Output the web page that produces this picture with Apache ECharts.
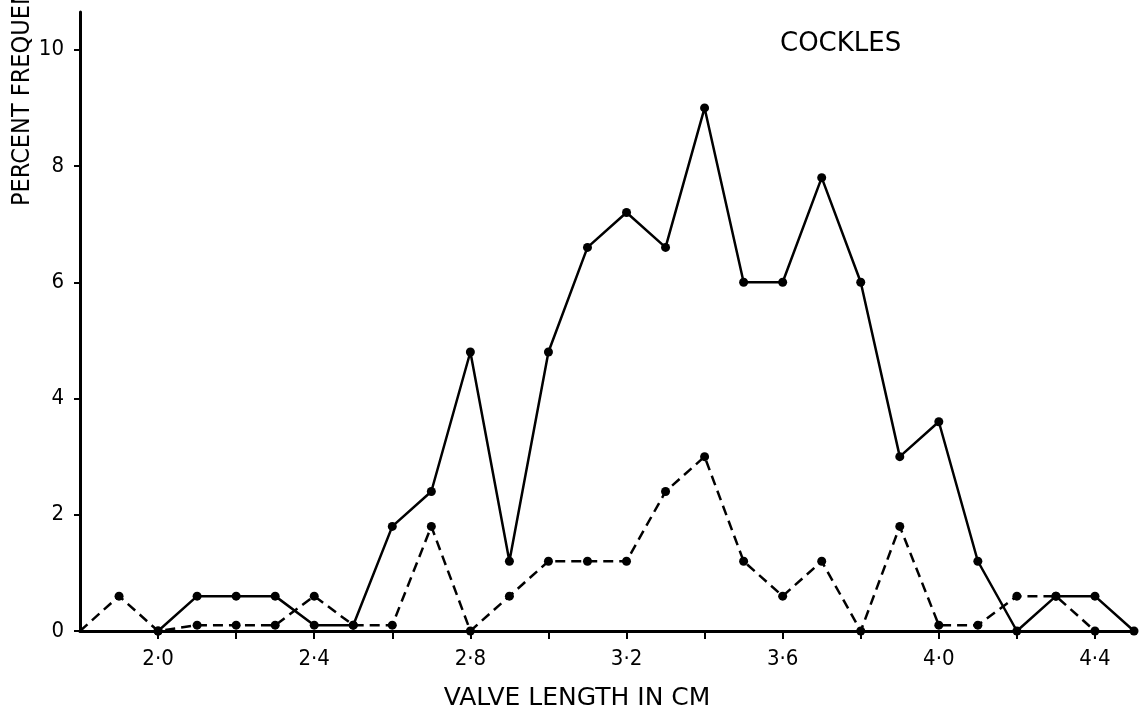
<!DOCTYPE html>
<html>
<head>
<meta charset="utf-8">
<script src="https://cdn.jsdelivr.net/npm/echarts@6/dist/echarts.min.js"></script>
<style>
html,body{margin:0;padding:0;background:#fff;}
#chart{width:1147px;height:714px;}
</style>
</head>
<body>
<div id="chart"></div>
<script>
// Valve lengths (cm) for each series
var solidLengths = [2.0, 2.1, 2.2, 2.3, 2.4, 2.5, 2.6, 2.7, 2.8, 2.9, 3.0, 3.1, 3.2, 3.3, 3.4, 3.5, 3.6, 3.7, 3.8, 3.9, 4.0, 4.1, 4.2, 4.3, 4.4, 4.5];
var solidFreq    = [0, 0.6, 0.6, 0.6, 0.1, 0.1, 1.8, 2.4, 4.8, 1.2, 4.8, 6.6, 7.2, 6.6, 9.0, 6.0, 6.0, 7.8, 6.0, 3.0, 3.6, 1.2, 0, 0.6, 0.6, 0];

var dashedLengths = [1.8, 1.9, 2.0, 2.1, 2.2, 2.3, 2.4, 2.5, 2.6, 2.7, 2.8, 2.9, 3.0, 3.1, 3.2, 3.3, 3.4, 3.5, 3.6, 3.7, 3.8, 3.9, 4.0, 4.1, 4.2, 4.3, 4.4];
var dashedFreq    = [0, 0.6, 0, 0.1, 0.1, 0.1, 0.6, 0.1, 0.1, 1.8, 0, 0.6, 1.2, 1.2, 1.2, 2.4, 3.0, 1.2, 0.6, 1.2, 0, 1.8, 0.1, 0.1, 0.6, 0.6, 0];

// Tick positions and labels
var xTickValues  = [2.0, 2.2, 2.4, 2.6, 2.8, 3.0, 3.2, 3.4, 3.6, 3.8, 4.0, 4.2, 4.4];
var xLabelValues = [2.0, 2.4, 2.8, 3.2, 3.6, 4.0, 4.4];
var yTickValues  = [0, 2, 4, 6, 8, 10];

var titleText = 'COCKLES';
var xName = 'VALVE LENGTH IN CM';
var yName = 'PERCENT FREQUENCY';

function pairs(xs, ys) {
  var out = [];
  for (var i = 0; i < xs.length; i++) out.push([xs[i], ys[i]]);
  return out;
}

var COND = '"DejaVu Sans Condensed", "DejaVu Sans", sans-serif';
var chart = echarts.init(document.getElementById('chart'), null, {renderer: 'canvas'});

chart.setOption({
  backgroundColor: '#ffffff',
  animation: false,
  grid: {left: 80, right: 13, top: 12, bottom: 83, containLabel: false},
  xAxis: {
    type: 'value',
    min: 1.8,
    max: 4.5,
    splitLine: {show: false},
    axisLine: {show: true, onZero: false, lineStyle: {color: '#000', width: 3}},
    axisTick: {show: true, customValues: xTickValues, length: 8, lineStyle: {color: '#000', width: 2}},
    axisLabel: {
      show: true,
      customValues: xLabelValues,
      margin: 17,
      color: '#000',
      fontFamily: COND,
      fontSize: 22,
      formatter: function (v) { return v.toFixed(1).replace('.', '\u00B7'); }
    }
  },
  yAxis: {
    type: 'value',
    min: 0,
    max: 10.65,
    splitLine: {show: false},
    axisLine: {show: true, onZero: false, lineStyle: {color: '#000', width: 3}},
    axisTick: {show: true, customValues: yTickValues, length: 6, lineStyle: {color: '#000', width: 2}},
    axisLabel: {
      show: true,
      customValues: yTickValues,
      margin: 16,
      color: '#000',
      fontFamily: COND,
      fontSize: 22
    }
  },
  graphic: [
    {
      type: 'text', x: 780, y: 31,
      style: {text: titleText, fill: '#000', font: '26px "DejaVu Sans", sans-serif', textAlign: 'left', textVerticalAlign: 'top'}
    },
    {
      type: 'text', x: 577, y: 698,
      style: {text: xName, fill: '#000', font: '25px "DejaVu Sans", sans-serif', textAlign: 'center', textVerticalAlign: 'middle'}
    },
    {
      type: 'text', x: 22, y: 206, rotation: Math.PI / 2,
      style: {text: yName, fill: '#000', font: '25px "DejaVu Sans Condensed", "DejaVu Sans", sans-serif', textAlign: 'left', textVerticalAlign: 'middle'}
    }
  ],
  series: [
    {
      type: 'line',
      data: pairs(solidLengths, solidFreq),
      symbol: 'circle',
      symbolSize: 9,
      itemStyle: {color: '#000'},
      lineStyle: {color: '#000', width: 2.5, type: 'solid'},
      z: 3
    },
    {
      type: 'line',
      data: pairs(dashedLengths, dashedFreq),
      symbol: 'circle',
      symbolSize: function (val, params) { return params.dataIndex === 0 ? 0 : 9; },
      itemStyle: {color: '#000'},
      lineStyle: {color: '#000', width: 2.5, type: [10, 6]},
      z: 2
    }
  ]
});
</script>
</body>
</html>
